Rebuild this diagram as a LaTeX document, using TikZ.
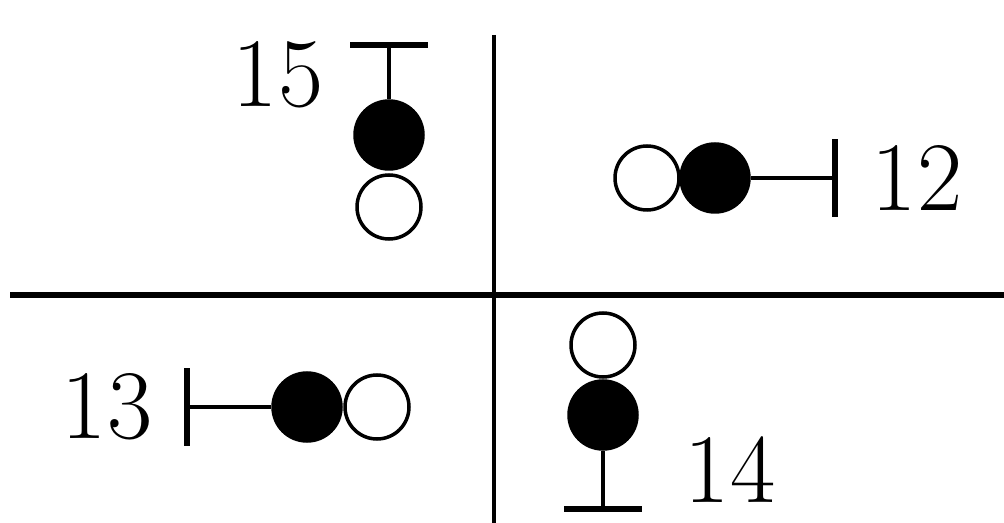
\documentclass[tikz,border=0pt]{standalone}
\usepackage{tikz}
\usetikzlibrary{arrows.meta}

\begin{document}
\begin{tikzpicture}[
    x=0.02cm, y=-0.02cm,
    hollowdot/.style={draw, circle, fill=white, line width=2pt, minimum size=1.28cm, inner sep=0pt},
    fulldot/.style={draw, circle, fill=black, line width=2pt, minimum size=1.36cm, inner sep=0pt},
    numlabel/.style={font=\fontsize{56}{62}\selectfont, inner sep=0pt},
    stem/.style={line width=2.4pt, -{Bar[width=1.55cm, line width=3.2pt]}},
]
\useasboundingbox (0,0) rectangle (1004,523);

% quadrant lines
\draw[line width=2pt] (494,35) -- (494,523);
\draw[line width=3.8pt] (10,295) -- (1004,295);

% 15
\node[fulldot] (f15) at (389,135) {};
\node[hollowdot] (h15) at (389,207) {};
\coordinate (t15) at (389,42);
\draw[stem] (f15) -- (t15);
\node[numlabel] (n15) at (278,75) {15};

% 12
\node[hollowdot] (h12) at (647,178) {};
\node[fulldot] (f12) at (715,178) {};
\coordinate (t12) at (838,178);
\draw[stem] (f12) -- (t12);
\node[numlabel] (n12) at (917,178) {12};

% 13
\node[fulldot] (f13) at (307,407) {};
\node[hollowdot] (h13) at (377,407) {};
\coordinate (t13) at (184,407);
\draw[stem] (f13) -- (t13);
\node[numlabel] (n13) at (107,407) {13};

% 14
\node[hollowdot] (h14) at (603,345) {};
\node[fulldot] (f14) at (603,415) {};
\coordinate (t14) at (603,512);
\draw[stem] (f14) -- (t14);
\node[numlabel] (n14) at (730,470) {14};
\end{tikzpicture}
\end{document}
